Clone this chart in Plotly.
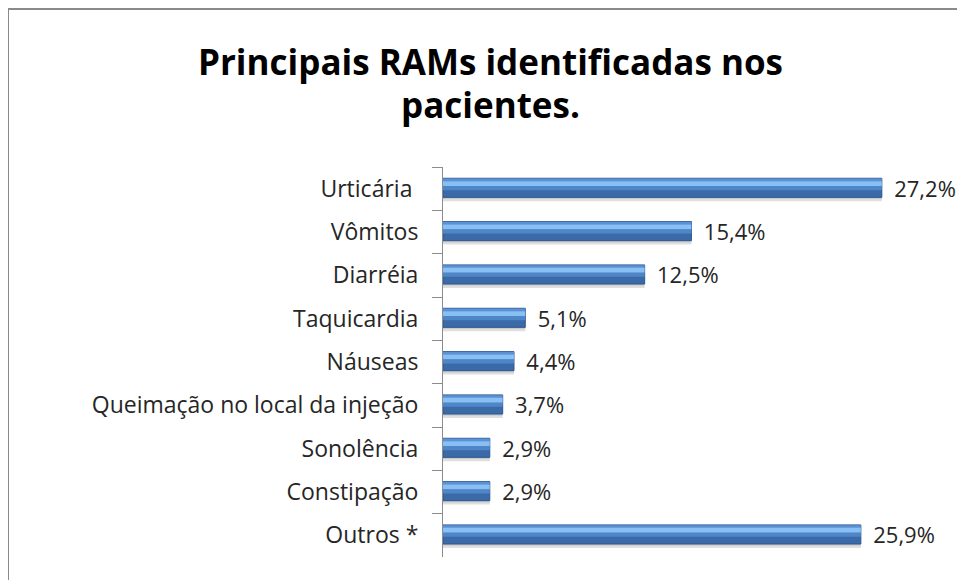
import plotly.graph_objects as go

categories = ["Urticária ", "Vômitos", "Diarréia", "Taquicardia", "Náuseas",
              "Queimação no local da injeção", "Sonolência", "Constipação", "Outros *"]
values = [27.2, 15.4, 12.5, 5.1, 4.4, 3.7, 2.9, 2.9, 25.9]
title_lines = ["Principais RAMs identificadas nos", "pacientes."]

OFF = 8  # page body margin
W, H = 965 - OFF, 580 - OFF
L, R, T, B = 443 - OFF, 927 - OFF, 167 - OFF, 557 - OFF  # plot area in figure pixels


def px(x):
    return (x - OFF - L) / (R - L)


def py(y):
    return (B - (y - OFF)) / (B - T)


FONT = "Open Sans"
fig = go.Figure()


def layer(width, offset, color, **kw):
    fig.add_trace(go.Bar(y=categories, x=values, orientation="h", width=width, offset=offset,
                         marker=dict(color=color, line=dict(width=0)),
                         hoverinfo="skip", showlegend=False, **kw))


# shadow
layer(0.10, 0.19, "rgba(110,110,110,0.22)")
layer(0.05, 0.19, "rgba(110,110,110,0.18)")
# base (dark)
fig.add_trace(go.Bar(y=categories, x=values, orientation="h", width=0.44, offset=-0.24,
                     marker=dict(color="#3a6aa8", line=dict(color="#2d5590", width=1)),
                     texttemplate=" \u2009%{x:.1f}%", textposition="outside",
                     constraintext="none",
                     textfont=dict(family=FONT, size=22, color="#262626"),
                     cliponaxis=False, showlegend=False))
# top edge lighter
layer(0.07, -0.235, "#5b92d6")
# highlight
layer(0.115, -0.173, "#88c0f4")
# mid tone
layer(0.095, -0.06, "#4f86c8")

fig.update_layout(
    width=W, height=H,
    margin=dict(l=L, r=W - R, t=T, b=H - B, pad=0),
    paper_bgcolor="white", plot_bgcolor="white",
    barmode="overlay", separators=",.",
    xaxis=dict(range=[0, 30], visible=False, fixedrange=True),
    yaxis=dict(type="category", autorange="reversed", showline=True, linecolor="#8c8c8c",
               linewidth=1, ticks="outside", tickson="boundaries", ticklen=10,
               tickcolor="#8c8c8c", showgrid=False, ticklabelstandoff=19,
               tickfont=dict(family=FONT, size=23, color="#262626")),
    font=dict(family=FONT),
    shapes=[
        dict(type="line", xref="paper", yref="paper", x0=px(6), x1=px(1000),
             y0=py(9), y1=py(9), line=dict(color="#8a8a8a", width=2)),
        dict(type="line", xref="paper", yref="paper", x0=px(8), x1=px(8),
             y0=py(8), y1=py(620), line=dict(color="#8a8a8a", width=2)),
    ],
    annotations=[
        dict(text="<b>%s</b>" % title_lines[0], x=px(490), y=py(61), xref="paper", yref="paper",
             showarrow=False, xanchor="center", yanchor="middle",
             font=dict(family=FONT, size=35, color="#000")),
        dict(text="<b>%s</b>" % title_lines[1], x=px(490), y=py(105), xref="paper", yref="paper",
             showarrow=False, xanchor="center", yanchor="middle",
             font=dict(family=FONT, size=35, color="#000")),
    ],
)

fig.write_html("out.html")
